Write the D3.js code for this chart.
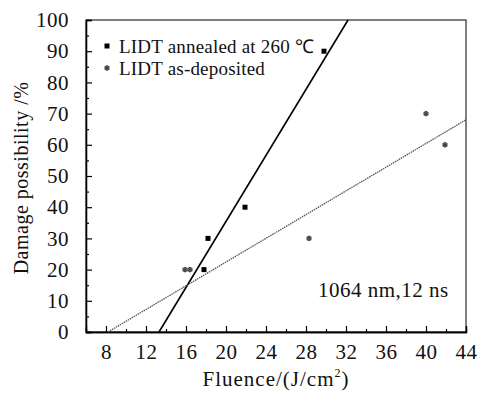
<!DOCTYPE html>
<html>
<head>
  <title>LIDT</title>
  <script type="text/javascript" src="https://d3js.org/d3.v7.min.js"></script>
  <style>
    body { margin: 0; background: #fff; }
  </style>
</head>
<body>
  <div id="container"></div>
  <script type="text/javascript">
    // annealed at 260 C
    var annealedX = [17.8, 18.2, 21.9, 29.8];
    var annealedY = [20, 30, 40, 90];
    // as-deposited
    var depositedX = [15.9, 16.4, 28.3, 40.0, 41.9];
    var depositedY = [20, 20, 30, 70, 60];
    // linear fits: slope and x-intercept
    var annealedFit = [5.29, 13.3];
    var depositedFit = [1.9, 8.2];
    var xTicks = [8, 12, 16, 20, 24, 28, 32, 36, 40, 44];
    var xMinor = [10, 14, 18, 22, 26, 30, 34, 38, 42];
    var yTicks = [0, 10, 20, 30, 40, 50, 60, 70, 80, 90, 100];
    var yMinor = [5, 15, 25, 35, 45, 55, 65, 75, 85, 95];
    var legendLabels = ['LIDT annealed at 260 \u2103', 'LIDT as-deposited'];

    var FONT = '"Liberation Serif"';

    function drawGraph() {
      var margin = {top: 20, right: 14, bottom: 67, left: 86},
        width = 480 - margin.left - margin.right,
        height = 399 - margin.top - margin.bottom;

      var svg = d3.select('#container').append('svg')
        .attr('width', 480).attr('height', 399);
      var gp = svg.append('g').attr('transform', `translate(${margin.left},${margin.top})`);

      var x = d3.scaleLinear().domain([6, 44]).range([0, width]);
      var y = d3.scaleLinear().domain([0, 100]).range([height, 0]);

      // frame
      gp.append('rect').attr('x', 0).attr('y', 0)
        .attr('width', width).attr('height', height)
        .attr('fill', 'none').attr('stroke', 'black').attr('stroke-width', 1);

      var xa = gp.append('g').attr('transform', `translate(0,${height})`)
        .call(d3.axisBottom(x).tickValues(xTicks).tickSize(-6).tickPadding(12));
      gp.append('g').attr('transform', `translate(0,${height})`)
        .call(d3.axisBottom(x).tickValues(xMinor).tickSize(-3).tickFormat(''));
      var ya = gp.append('g')
        .call(d3.axisLeft(y).tickValues(yTicks).tickSize(-6).tickPadding(17));
      gp.append('g')
        .call(d3.axisLeft(y).tickValues(yMinor).tickSize(-3).tickFormat(''));
      gp.selectAll('.domain').attr('stroke', 'black').attr('stroke-width', 1.3);
      gp.selectAll('.tick line').attr('stroke', 'black').attr('stroke-width', 1.2);
      [xa, ya].forEach(a => a.selectAll('text')
        .style('font-family', FONT).style('font-size', '21px')
        .style('letter-spacing', '0.5px').attr('fill', '#111'));

      // fit lines
      var fitA = d3.line().x(d => x(d)).y(d => y(annealedFit[0] * (d - annealedFit[1])));
      var xEndA = annealedFit[1] + 100 / annealedFit[0];
      gp.append('path').datum([annealedFit[1], xEndA])
        .attr('d', fitA).attr('stroke', 'black').attr('stroke-width', 1.6).attr('fill', 'none');
      var fitD = d3.line().x(d => x(d)).y(d => y(depositedFit[0] * (d - depositedFit[1])));
      gp.append('path').datum([depositedFit[1], 44])
        .attr('d', fitD).attr('stroke', '#555').attr('stroke-width', 1.3)
        .attr('stroke-dasharray', '1.5,0.8').attr('fill', 'none');

      // markers
      function square(g, cx, cy) {
        g.append('rect').attr('x', cx - 2.5).attr('y', cy - 2.5)
          .attr('width', 5).attr('height', 5).attr('fill', 'black');
      }
      function flower(g, cx, cy) {
        g.append('circle').attr('cx', cx).attr('cy', cy).attr('r', 2.2)
          .attr('fill', '#999').attr('stroke', '#333').attr('stroke-width', 0.8);
        g.append('path').attr('d', d3.symbol(d3.symbolAsterisk, 20)())
          .attr('transform', `translate(${cx},${cy})`)
          .attr('stroke', '#333').attr('stroke-width', 0.9);
      }
      annealedX.forEach((v, i) => square(gp, x(v), y(annealedY[i])));
      depositedX.forEach((v, i) => flower(gp, x(v), y(depositedY[i])));

      // legend
      square(svg, 107, 46);
      flower(svg, 107, 68);
      svg.selectAll('.leg').data(legendLabels).enter().append('text')
        .attr('x', 119).attr('y', (d, i) => 52.5 + i * 22)
        .style('font-family', FONT).style('font-size', '19px')
        .style('letter-spacing', '0.2px').attr('fill', '#111').text(d => d);

      svg.append('text').attr('x', 318).attr('y', 297)
        .style('font-family', FONT).style('font-size', '21px')
        .style('letter-spacing', '0.5px').attr('fill', '#111').text('1064 nm,12 ns');

      // axis titles
      var xt = svg.append('text').attr('x', margin.left + width / 2).attr('y', 386)
        .attr('text-anchor', 'middle')
        .style('font-family', FONT).style('font-size', '21px')
        .style('letter-spacing', '1px').attr('fill', '#111');
      xt.append('tspan').text('Fluence/(J/cm');
      xt.append('tspan').style('font-size', '12px').attr('dy', -9).text('2');
      xt.append('tspan').attr('dy', 9).text(')');

      svg.append('text')
        .attr('transform', 'translate(28,178) rotate(-90)')
        .attr('text-anchor', 'middle')
        .style('font-family', FONT).style('font-size', '20px')
        .style('letter-spacing', '0.5px').attr('fill', '#111')
        .text('Damage possibility /%');
    }

    drawGraph();
  </script>
</body>
</html>
